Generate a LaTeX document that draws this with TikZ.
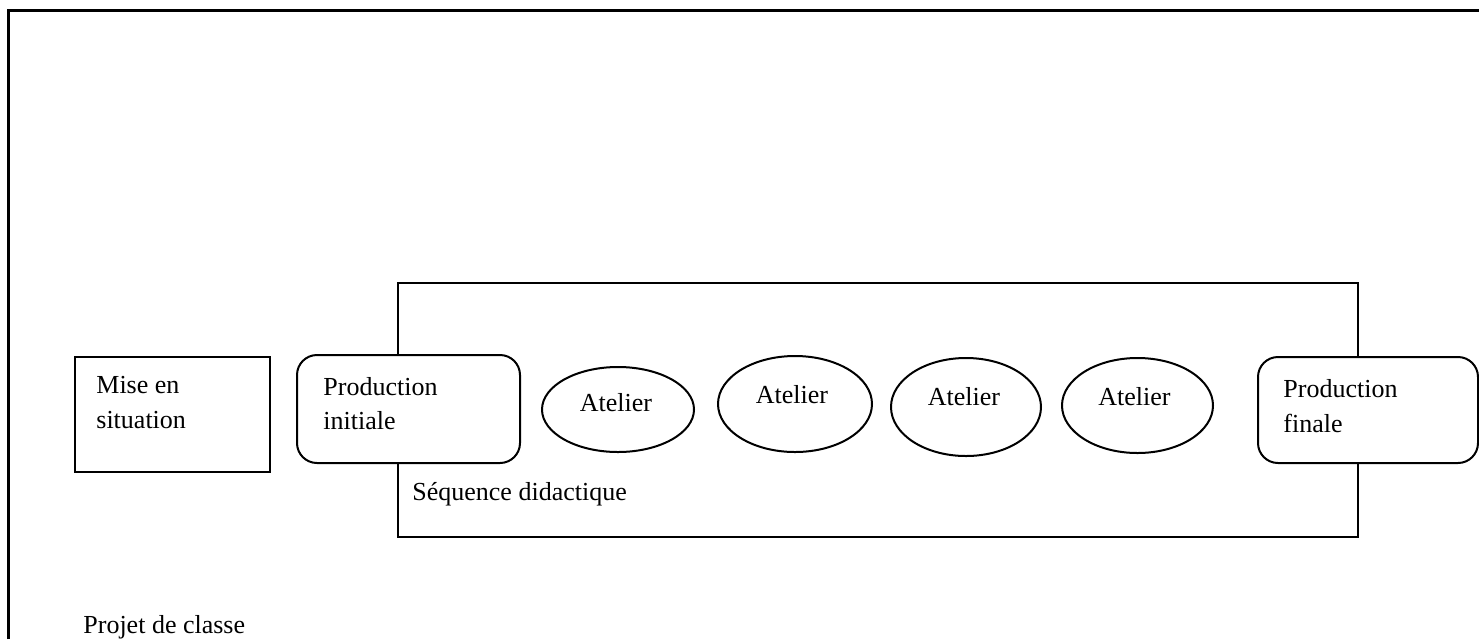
\documentclass[tikz,border=0pt]{standalone}
\usepackage{fontspec}
\setmainfont{Liberation Serif}
\usetikzlibrary{shapes.geometric}
\begin{document}
\begin{tikzpicture}[x=0.5pt,y=-0.5pt,
  every node/.style={font=\fontsize{13}{17}\selectfont},
  line/.style={line width=1pt},
  txt/.style={anchor=base west,inner sep=0pt},
  sqbox/.style={draw,line width=1pt,fill=white,rectangle,inner sep=0pt},
  rbox/.style={draw,line width=1pt,fill=white,rectangle,rounded corners=10pt,inner sep=0pt},
  atelier/.style={draw,line width=1pt,fill=white,ellipse,inner sep=0pt}]
\useasboundingbox (0,0) rectangle (1479,639);
% outer frame (projet de classe)
\coordinate (fbl) at (8,639);
\coordinate (ftl) at (8,10);
\coordinate (ftr) at (1479,10);
\draw[line width=1.5pt] (fbl) -- (ftl) -- (ftr);
% sequence didactique frame
\node[draw,line width=1pt,rectangle,inner sep=0pt,minimum width=480pt,minimum height=127pt] (seq) at (878,410) {};
% boxes
\node[sqbox,minimum width=97.5pt,minimum height=57.5pt] (mise) at (172.5,414.5) {};
\node[rbox,minimum width=111.5pt,minimum height=54pt] (pinit) at (408.5,409) {};
\node[rbox,minimum width=110pt,minimum height=53pt] (pfin) at (1368,410) {};
% ateliers
\node[atelier,minimum width=76pt,minimum height=42.5pt] (a1) at (618,409.5) {};
\node[atelier,minimum width=77pt,minimum height=48pt] (a2) at (795,404) {};
\node[atelier,minimum width=75pt,minimum height=49pt] (a3) at (966,407) {};
\node[atelier,minimum width=75.5pt,minimum height=47.5pt] (a4) at (1137.5,405.5) {};
% texts
\node[txt] (t1) at (96,393) {Mise en};
\node[txt] (t2) at (96,428) {situation};
\node[txt] (t3) at (323,395) {Production};
\node[txt] (t4) at (323,429) {initiale};
\node[txt] (t5) at (1283,397) {Production};
\node[txt] (t6) at (1283,432) {finale};
\node[anchor=base,inner sep=0pt] (ta1) at (616,411) {Atelier};
\node[anchor=base,inner sep=0pt] (ta2) at (792,403) {Atelier};
\node[anchor=base,inner sep=0pt] (ta3) at (964,405) {Atelier};
\node[anchor=base,inner sep=0pt] (ta4) at (1134.5,405) {Atelier};
\node[txt] (tseq) at (412,500) {Séquence didactique};
\node[txt] (tproj) at (83,633) {Projet de classe};
\end{tikzpicture}
\end{document}
